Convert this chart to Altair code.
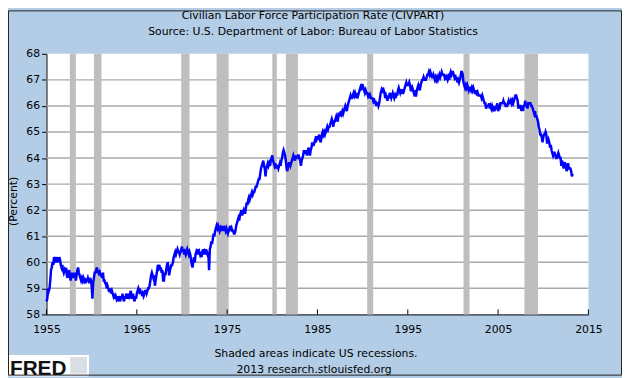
import altair as alt
import pandas as pd

# Monthly CIVPART values (percent), one row per year
v1955 = [
    58.5, 58.6, 59.0, 58.9, 59.0, 59.3, 59.7, 59.8, 60.0, 59.9, 60.2, 60.1,
    60.2, 60.0, 60.1, 60.2, 60.0, 60.2, 60.1, 59.9, 59.8, 59.9, 59.7, 59.6,
    59.7, 59.6, 59.8, 59.5, 59.4, 59.6, 59.7, 59.5, 59.3, 59.6, 59.4, 59.5,
    59.6, 59.4, 59.6, 59.3, 59.5, 59.7, 59.8, 59.6, 59.5, 59.4, 59.3, 59.4,
    59.3, 59.4, 59.3, 59.4, 59.2, 59.3, 59.3, 59.4, 59.3, 59.2, 59.4, 59.3,
    59.1, 58.6, 59.2, 59.4, 59.6, 59.6, 59.7, 59.8, 59.6, 59.7, 59.5, 59.6,
    59.5, 59.5, 59.4, 59.6, 59.3, 59.3, 59.2, 59.2, 59.0, 59.1, 59.0, 58.9,
    58.9, 59.0, 58.8, 58.9, 58.8, 58.7, 58.8, 58.6, 58.7, 58.6, 58.7, 58.5,
    58.7, 58.6, 58.5, 58.7, 58.6, 58.8, 58.6, 58.5, 58.7, 58.6, 58.8, 58.7,
    58.6, 58.8, 58.7, 58.8, 58.9, 58.6, 58.7, 58.8, 58.6, 58.5, 58.7, 58.6,
]
v1965 = [
    58.8, 58.9, 59.0, 58.9, 59.0, 58.8, 58.9, 58.7, 58.8, 58.7, 58.8, 58.9,
    58.9, 58.8, 58.9, 59.0, 59.0, 59.1, 59.3, 59.5, 59.6, 59.5, 59.4, 59.5,
    59.1, 59.3, 59.5, 59.7, 59.9, 59.8, 59.9, 59.7, 59.8, 59.6, 59.7, 59.3,
    59.3, 59.6, 59.5, 59.7, 59.9, 60.0, 59.8, 59.5, 59.7, 59.8, 59.9, 59.9,
    60.0, 60.2, 60.3, 60.4, 60.3, 60.4, 60.5, 60.4, 60.4, 60.3, 60.4, 60.5,
    60.6, 60.4, 60.5, 60.3, 60.4, 60.3, 60.4, 60.5, 60.4, 60.3, 60.4, 60.3,
    60.1, 59.9, 59.8, 60.0, 60.2, 60.0, 60.3, 60.4, 60.3, 60.5, 60.3, 60.4,
    60.3, 60.4, 60.2, 60.4, 60.5, 60.3, 60.4, 60.3, 60.5, 60.4, 60.3, 60.4,
    59.7, 60.5, 60.6, 60.8, 60.7, 60.9, 61.1, 61.0, 61.2, 61.3, 61.4, 61.3,
    61.4, 61.3, 61.2, 61.3, 61.2, 61.4, 61.3, 61.2, 61.4, 61.3, 61.2, 61.3,
]
v1975 = [
    61.2, 61.1, 61.2, 61.3, 61.4, 61.2, 61.3, 61.2, 61.2, 61.1, 61.1, 61.2,
    61.4, 61.5, 61.6, 61.7, 61.6, 61.8, 61.9, 62.0, 61.8, 61.9, 62.0, 61.9,
    61.9, 62.1, 62.3, 62.2, 62.4, 62.5, 62.4, 62.5, 62.6, 62.7, 62.6, 62.7,
    62.7, 62.8, 62.9, 62.9, 63.0, 63.1, 63.2, 63.2, 63.4, 63.6, 63.7, 63.8,
    63.9, 63.7, 63.6, 63.3, 63.6, 63.7, 63.8, 63.7, 63.8, 63.7, 63.9, 64.0,
    64.1, 63.9, 63.8, 63.7, 63.8, 63.6, 63.7, 63.7, 63.6, 63.7, 63.8, 63.7,
    63.9, 64.0, 64.2, 64.3, 64.2, 64.1, 63.9, 63.6, 63.5, 63.7, 63.8, 63.8,
    63.7, 63.8, 63.9, 64.0, 64.1, 64.0, 63.9, 64.1, 64.0, 64.0, 64.1, 64.1,
    64.0, 63.9, 63.7, 63.9, 64.0, 64.1, 64.3, 64.2, 64.2, 64.3, 64.1, 64.2,
    64.4, 64.3, 64.1, 64.3, 64.4, 64.6, 64.5, 64.5, 64.6, 64.7, 64.6, 64.8,
]
v1985 = [
    64.8, 64.7, 64.9, 64.8, 64.6, 64.7, 64.9, 65.0, 64.9, 65.0, 64.9, 65.0,
    65.1, 65.2, 65.1, 65.2, 65.2, 65.3, 65.4, 65.5, 65.4, 65.2, 65.4, 65.4,
    65.5, 65.6, 65.5, 65.4, 65.7, 65.7, 65.6, 65.8, 65.7, 65.8, 65.7, 65.8,
    65.9, 66.0, 65.9, 65.8, 66.0, 66.1, 66.2, 66.3, 66.4, 66.3, 66.3, 66.4,
    66.5, 66.4, 66.5, 66.4, 66.3, 66.5, 66.4, 66.5, 66.6, 66.7, 66.6, 66.8,
    66.8, 66.7, 66.6, 66.5, 66.6, 66.5, 66.5, 66.4, 66.5, 66.3, 66.4, 66.3,
    66.3, 66.3, 66.2, 66.3, 66.1, 66.2, 66.0, 66.1, 66.1, 66.0, 66.1, 66.3,
    66.5, 66.6, 66.5, 66.7, 66.6, 66.5, 66.3, 66.4, 66.3, 66.2, 66.4, 66.3,
    66.5, 66.4, 66.3, 66.4, 66.5, 66.4, 66.3, 66.4, 66.3, 66.5, 66.4, 66.6,
    66.7, 66.6, 66.5, 66.6, 66.6, 66.5, 66.5, 66.6, 66.7, 66.8, 66.9, 66.8,
]
v1995 = [
    66.8, 66.8, 66.9, 66.8, 66.6, 66.6, 66.7, 66.6, 66.5, 66.6, 66.4, 66.4,
    66.6, 66.7, 66.8, 66.7, 66.6, 66.8, 66.9, 67.0, 67.0, 67.1, 67.0, 67.0,
    67.0, 67.1, 67.2, 67.2, 67.3, 67.2, 67.3, 67.2, 67.1, 67.1, 67.2, 67.1,
    67.0, 67.1, 67.0, 67.1, 67.0, 67.1, 67.2, 67.1, 67.2, 67.3, 67.2, 67.2,
    67.2, 67.1, 67.2, 67.0, 67.1, 67.0, 67.1, 67.0, 67.2, 67.3, 67.2, 67.3,
    67.3, 67.2, 67.1, 67.2, 67.0, 67.1, 66.9, 67.0, 66.9, 67.0, 67.1, 67.3,
    67.3, 67.2, 66.9, 66.8, 66.7, 66.8, 66.7, 66.8, 66.7, 66.6, 66.7, 66.7,
    66.6, 66.7, 66.6, 66.7, 66.6, 66.5, 66.5, 66.6, 66.4, 66.5, 66.4, 66.4,
    66.4, 66.4, 66.3, 66.4, 66.3, 66.2, 66.1, 66.1, 65.9, 66.0, 66.0, 66.0,
    66.1, 65.9, 66.0, 65.9, 66.0, 65.9, 66.0, 65.8, 65.9, 65.9, 66.0, 66.1,
]
v2005 = [
    65.8, 65.9, 65.9, 66.1, 66.1, 66.1, 66.1, 66.2, 66.1, 66.1, 66.0, 66.0,
    66.0, 66.1, 66.2, 66.1, 66.1, 66.2, 66.1, 66.2, 66.1, 66.2, 66.3, 66.4,
    66.4, 66.3, 66.2, 65.9, 66.0, 66.0, 66.0, 65.8, 66.0, 65.8, 66.0, 66.0,
    66.2, 66.0, 66.1, 65.9, 66.1, 66.1, 66.1, 66.1, 66.0, 66.0, 65.9, 65.8,
    65.7, 65.8, 65.6, 65.6, 65.5, 65.4, 65.2, 65.1, 64.9, 64.9, 64.8, 64.6,
    64.8, 64.9, 64.9, 65.0, 64.9, 64.6, 64.6, 64.7, 64.6, 64.4, 64.5, 64.3,
    64.2, 64.1, 64.2, 64.2, 64.1, 64.0, 64.0, 64.1, 64.2, 64.1, 64.0, 64.0,
    63.7, 63.9, 63.8, 63.6, 63.8, 63.8, 63.7, 63.5, 63.6, 63.8, 63.6, 63.6,
    63.6, 63.5, 63.3, 63.4,
]

rec_start = ["1957-08", "1960-04", "1969-12", "1973-11", "1980-01",
             "1981-07", "1990-07", "2001-03", "2007-12"]
rec_end = ["1958-04", "1961-02", "1970-11", "1975-03", "1980-07",
           "1982-11", "1991-03", "2001-11", "2009-06"]

x_ticks = [1955, 1965, 1975, 1985, 1995, 2005, 2015]
y_ticks = [58, 59, 60, 61, 62, 63, 64, 65, 66, 67, 68]
grid_vals = [59, 60, 61, 62, 63, 64, 65, 66, 67]

title_lines = ["Civilian Labor Force Participation Rate (CIVPART)",
               "Source: U.S. Department of Labor: Bureau of Labor Statistics"]
footer_lines = ["Shaded areas indicate US recessions.",
                "2013 research.stlouisfed.org"]

FONT = "DejaVu Sans"
BG = "#B3CDE6"

values = v1955 + v1965 + v1975 + v1985 + v1995 + v2005
df = pd.DataFrame({"t": [1955 + i / 12 for i in range(len(values))], "v": values})


def dec(s):
    y, m = s.split("-")
    return int(y) + (int(m) - 1) / 12


rec = pd.DataFrame({"s": [dec(s) for s in rec_start],
                    "e": [dec(s) for s in rec_end],
                    "lo": 58, "hi": 68})

xscale = alt.Scale(domain=[1955, 2015], nice=False, zero=False)
yscale = alt.Scale(domain=[58, 68], nice=False, zero=False)

xaxis = alt.Axis(values=x_ticks, format="d", grid=False, ticks=False,
                 labelPadding=9, title=None, domainColor="black",
                 domainWidth=1, labelFont=FONT, labelFontSize=11,
                 labelColor="black", labelFlush=False, labelOverlap=False)
yaxis = alt.Axis(values=y_ticks, format="d", grid=False, tickSize=5,
                 tickColor="black", domainColor="black", domainWidth=1,
                 labelPadding=2, labelFont=FONT, labelFontSize=11,
                 labelColor="black", labelOverlap=False, labelFlush=False,
                 title="(Percent)", titleFont=FONT, titleFontSize=11,
                 titleFontWeight="normal", titleColor="black",
                 titleX=-33, titleY=149, titleAngle=270,
                 titleAlign="center", titleBaseline="middle")

grid = alt.Chart(pd.DataFrame({"g": grid_vals})).mark_rule(
    color="#AAAAAA", strokeWidth=1.5).encode(
    y=alt.Y("g:Q", scale=yscale, axis=yaxis))

bands = alt.Chart(rec).mark_rect(color="#BEBEBE").encode(
    x=alt.X("s:Q", scale=xscale, axis=xaxis),
    x2="e:Q",
    y=alt.Y("lo:Q", scale=yscale, axis=yaxis),
    y2="hi:Q",
)

line = alt.Chart(df).mark_line(color="#0000FF", strokeWidth=2.5).encode(
    x=alt.X("t:Q", scale=xscale, axis=xaxis),
    y=alt.Y("v:Q", scale=yscale, axis=yaxis),
)

xt = alt.Chart(pd.DataFrame({"x": x_ticks})).mark_rule(
    color="black", strokeWidth=1).encode(
    x=alt.X("x:Q", scale=xscale, axis=xaxis), y=alt.value(264),
    y2=alt.value(259))


def text_layer(txt, x, y, **kw):
    return alt.Chart(pd.DataFrame({"t": [txt]})).mark_text(
        font=FONT, fontSize=11, color="black", align="center",
        baseline="middle", **kw).encode(
        text="t:N", x=alt.value(x), y=alt.value(y))


title1 = text_layer(title_lines[0], 270, -38)
title2 = text_layer(title_lines[1], 270, -22)
foot1 = text_layer(footer_lines[0], 273, 304)
foot2 = text_layer(footer_lines[1], 271, 320)

logo_box = alt.Chart(pd.DataFrame({"a": [0]})).mark_rect(color="white").encode(
    x=alt.value(-38), x2=alt.value(43), y=alt.value(305), y2=alt.value(327))
logo_icon = alt.Chart(pd.DataFrame({"a": [0]})).mark_rect(color="#D8DEE4").encode(
    x=alt.value(24), x2=alt.value(41), y=alt.value(307), y2=alt.value(324))
logo_text = alt.Chart(pd.DataFrame({"t": ["FRED"]})).mark_text(
    font="Liberation Sans", fontSize=21, fontWeight="bold", color="#111111",
    align="left", baseline="alphabetic").encode(
    text="t:N", x=alt.value(-37), y=alt.value(325))

border = alt.Chart(pd.DataFrame({"a": [0]})).mark_rect(
    fillOpacity=0, stroke="#222222", strokeWidth=1).encode(
    x=alt.value(-38.5), x2=alt.value(582.5), y=alt.value(-43.5),
    y2=alt.value(325.5))

chart = alt.layer(grid, bands, line, xt, title1, title2, foot1, foot2,
                  logo_box, logo_icon, logo_text, border).properties(
    width=549,
    height=264,
    autosize=alt.AutoSizeParams(type="none"),
    padding={"left": 39, "top": 44, "right": 34, "bottom": 62},
    background=BG,
).configure_view(fill="white", strokeWidth=0)

chart.save("out.html", embed_options={"renderer": "svg", "actions": False})
